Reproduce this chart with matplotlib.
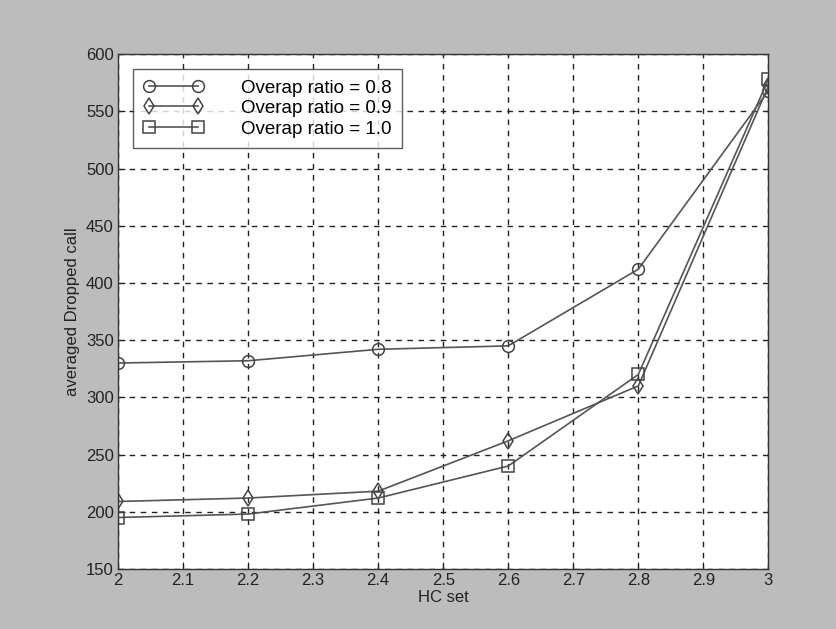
import matplotlib
matplotlib.use("Agg")
import matplotlib.pyplot as plt

hc_set = [2.0, 2.2, 2.4, 2.6, 2.8, 3.0]
ratio_08 = [330, 332, 342, 345, 412, 568]
ratio_09 = [209, 212, 218, 262, 310, 572]
ratio_10 = [195, 198, 212, 240, 320, 578]
labels = ["Overap ratio = 0.8", "Overap ratio = 0.9", "Overap ratio = 1.0"]

plt.rcParams["font.family"] = ["Liberation Sans", "DejaVu Sans"]

fig = plt.figure(figsize=(8.37, 6.29), dpi=100)
fig.patch.set_facecolor("#bcbcbc")
ax = fig.add_axes([0.141, 0.0954, 0.777, 0.8186])
ax.set_facecolor("white")

line_color = "#555555"
for y, m, lab in zip([ratio_08, ratio_09, ratio_10], ["o", "d", "s"], labels):
    ax.plot(hc_set, y, color=line_color, linewidth=1.2, marker=m,
            markersize=8.5 if m != "s" else 8, markerfacecolor="none",
            markeredgecolor="#444444", markeredgewidth=1.1, label=lab)

ax.set_xlim(2, 3)
ax.set_ylim(150, 600)
ax.set_xticks([2, 2.1, 2.2, 2.3, 2.4, 2.5, 2.6, 2.7, 2.8, 2.9, 3])
ax.set_xticklabels(["2", "2.1", "2.2", "2.3", "2.4", "2.5", "2.6", "2.7", "2.8", "2.9", "3"])
ax.set_yticks(range(150, 601, 50))
ax.grid(True, color="#222222", linestyle=(0, (4, 4)), linewidth=1.0)
ax.tick_params(direction="in", length=5, labelsize=12, colors="#222222", pad=3)
for s in ax.spines.values():
    s.set_color("#333333")
    s.set_linewidth(1.0)

ax.set_xlabel("HC set", fontsize=12, color="#222222", labelpad=1)
ax.set_ylabel("averaged Dropped call", fontsize=12, color="#222222", labelpad=4)

leg = ax.legend(loc="upper left", numpoints=2, fontsize=13.5, frameon=True,
                fancybox=False, edgecolor="#333333", handlelength=3.2,
                borderaxespad=0.8, labelspacing=0.18, handletextpad=2.0,
                borderpad=0.55)
leg.get_frame().set_linewidth(1.0)

fig.savefig("out.png", dpi=100, facecolor=fig.get_facecolor())
